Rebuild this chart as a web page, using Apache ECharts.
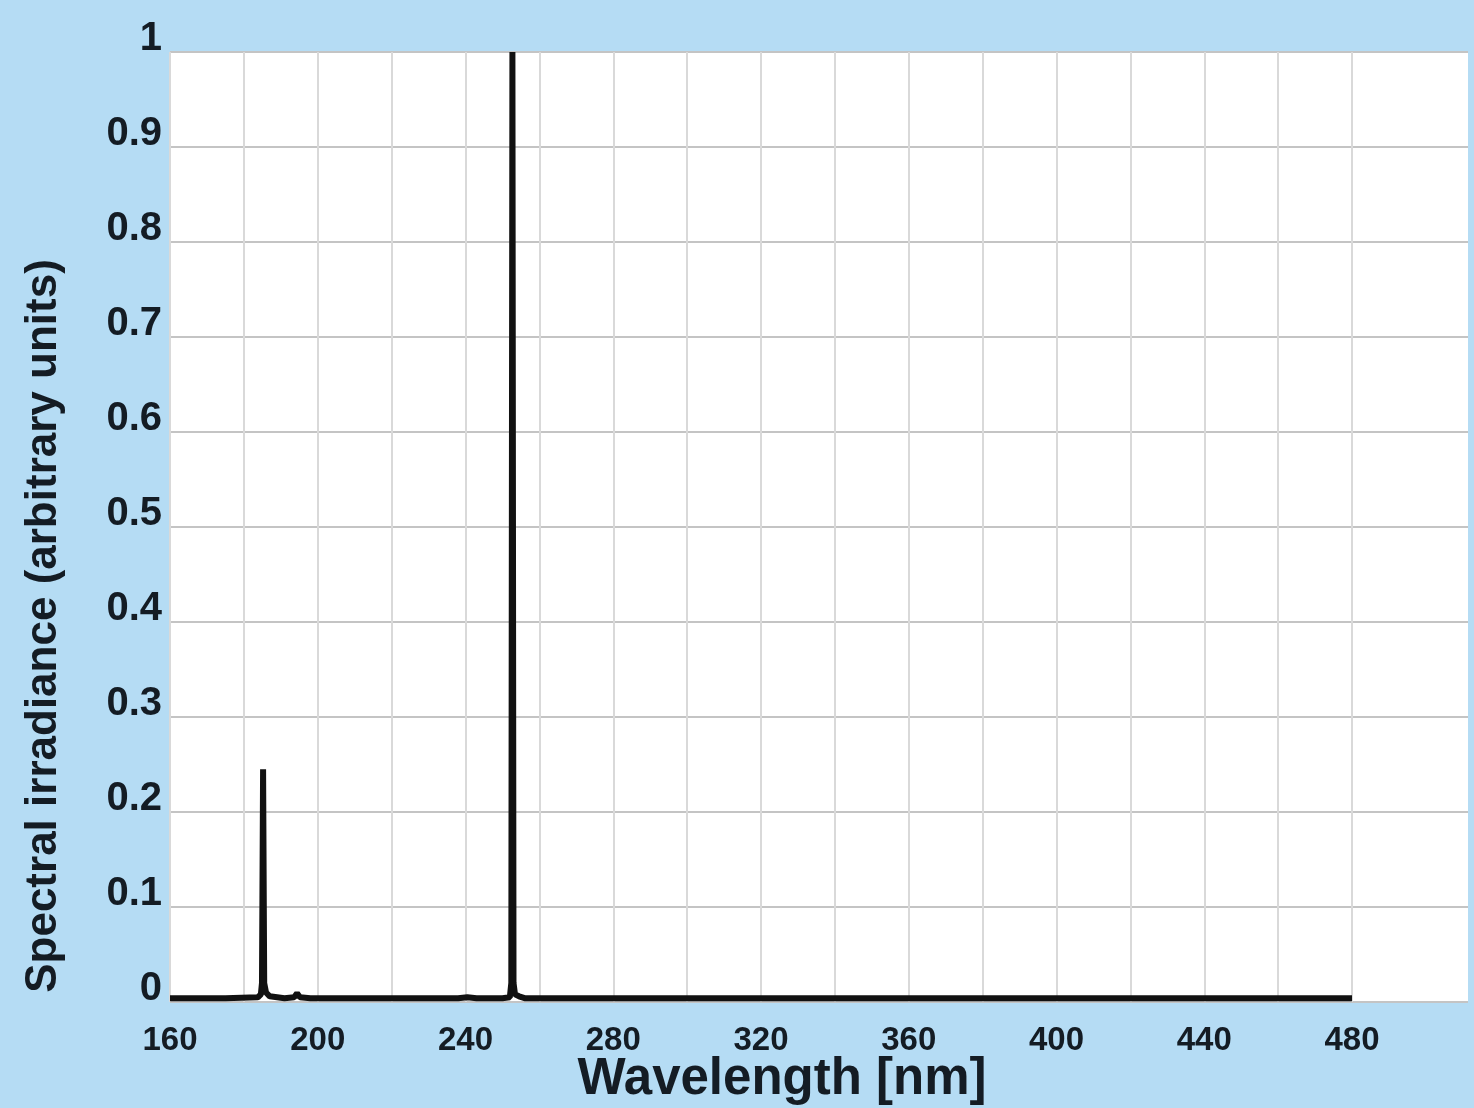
<!DOCTYPE html>
<html>
<head>
<meta charset="utf-8">
<script src="https://cdn.jsdelivr.net/npm/echarts@6/dist/echarts.min.js"></script>
<style>
html,body{margin:0;padding:0;background:#b5dcf4;}
#chart{width:1474px;height:1108px;}
</style>
</head>
<body>
<div id="chart"></div>
<script>
// Data (low-pressure mercury lamp)
const wavelengths = [160, 175, 183.8, 184.6, 184.9, 185.2, 185.5, 186.0, 187, 191, 193.6, 194.4, 195.2, 198, 210, 225, 238, 240.5, 243, 250, 252.0, 252.4, 252.7, 253.0, 253.4, 254.5, 256, 265, 300, 350, 400, 440, 480];
const irradiance  = [0.004, 0.004, 0.005, 0.008, 0.02, 0.245, 0.02, 0.01, 0.006, 0.004, 0.005, 0.009, 0.005, 0.004, 0.004, 0.004, 0.004, 0.005, 0.004, 0.004, 0.005, 0.02, 1.0, 0.02, 0.008, 0.006, 0.004, 0.004, 0.004, 0.004, 0.004, 0.004, 0.004];
const xTickLabels = [160, 200, 240, 280, 320, 360, 400, 440, 480];
const yTickLabels = [0, 0.1, 0.2, 0.3, 0.4, 0.5, 0.6, 0.7, 0.8, 0.9, 1];
const xName = 'Wavelength [nm]';
const yName = 'Spectral irradiance (arbitrary units)';

const chart = echarts.init(document.getElementById('chart'));
const FONT = 'Liberation Sans';
const TXT = '#141c24';

const seriesData = wavelengths.map((w, i) => [w, irradiance[i]]);

chart.setOption({
  backgroundColor: '#b5dcf4',
  animation: false,
  grid: [
    {left: 170, top: 52, right: 6, bottom: 106, show: true, backgroundColor: '#ffffff', borderWidth: 0},
    {left: 170, top: 52, right: 122, bottom: 106, show: false}
  ],
  xAxis: [
    {
      type: 'value', gridIndex: 0, min: 160, max: 511.4, interval: 40,
      axisLine: {show: false}, axisTick: {show: false}, splitLine: {show: false},
      axisLabel: {
        color: TXT, fontFamily: FONT, fontWeight: 'bold', fontSize: 33, margin: 22,
        showMaxLabel: false,
        formatter: v => xTickLabels.indexOf(v) >= 0 ? String(v) : ''
      }
    },
    {
      type: 'value', gridIndex: 1, min: 160, max: 480, interval: 20,
      axisLine: {show: false}, axisTick: {show: false}, axisLabel: {show: false},
      splitLine: {show: true, lineStyle: {color: '#d9d9d9', width: 2}}
    }
  ],
  yAxis: [
    {
      type: 'value', gridIndex: 0, min: 0, max: 1, interval: 0.1,
      axisLine: {show: false}, axisTick: {show: false},
      splitLine: {show: true, lineStyle: {color: '#c4c4c4', width: 2}},
      axisLabel: {
        color: TXT, fontFamily: FONT, fontWeight: 'bold', fontSize: 40, margin: 8,
        verticalAlign: 'bottom', lineHeight: 26,
        formatter: v => {
          const r = Math.round(v * 10) / 10;
          return yTickLabels.indexOf(r) >= 0 ? String(r) : '';
        }
      }
    },
    {
      type: 'value', gridIndex: 1, min: 0, max: 1, interval: 0.1, show: false,
      splitLine: {show: false}
    }
  ],
  graphic: [
    {
      type: 'text', x: 782, y: 1080, z: 10,
      style: {text: xName, fill: TXT, font: 'bold 51px "Liberation Sans"', align: 'center', verticalAlign: 'middle', textAlign: 'center', textVerticalAlign: 'middle'}
    },
    {
      type: 'text', x: 44, y: 626, rotation: Math.PI / 2, z: 10,
      style: {text: yName, fill: TXT, font: 'bold 44px "Liberation Sans"', align: 'center', verticalAlign: 'middle', textAlign: 'center', textVerticalAlign: 'middle'}
    }
  ],
  series: [
    {
      type: 'line', xAxisIndex: 0, yAxisIndex: 0, data: seriesData,
      showSymbol: false, symbol: 'none', smooth: false,
      lineStyle: {color: '#111111', width: 6, join: 'bevel'},
      z: 5
    }
  ]
});
</script>
</body>
</html>
